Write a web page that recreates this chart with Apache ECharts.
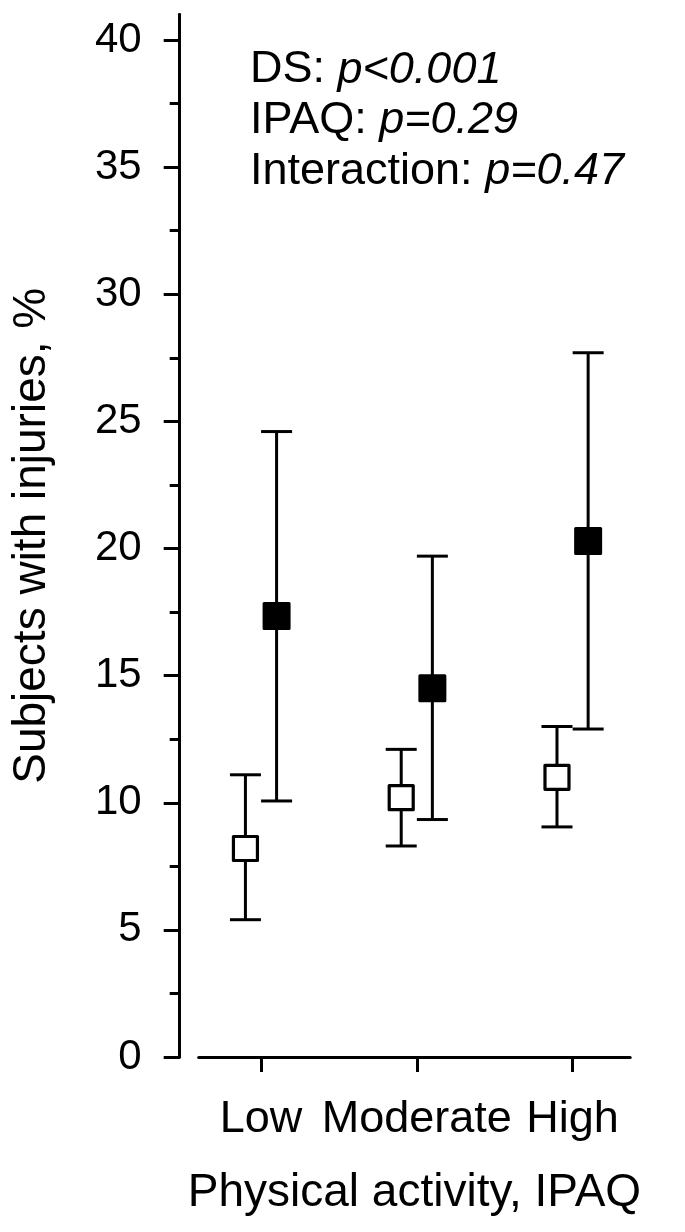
<!DOCTYPE html>
<html>
<head>
<meta charset="utf-8">
<script src="https://cdn.jsdelivr.net/npm/echarts@6/dist/echarts.min.js"></script>
<style>
  html, body { margin: 0; padding: 0; background: #fff; }
  #chart { width: 685px; height: 1232px; }
</style>
</head>
<body>
<div id="chart"></div>
<script>
// ---- Data ----
const categories = ['Low', 'Moderate', 'High'];
// open squares (first group)
const openMean  = [8.2, 10.2, 11.0];
const openLower = [5.4, 8.3, 9.05];
const openUpper = [11.1, 12.1, 13.0];
// filled squares (second group)
const filledMean  = [17.35, 14.5, 20.3];
const filledLower = [10.07, 9.34, 12.9];
const filledUpper = [24.6, 19.7, 27.7];
// axis ticks
const yMajorTicks = [0, 5, 10, 15, 20, 25, 30, 35, 40];
const yMinorTicks = [2.5, 7.5, 12.5, 17.5, 22.5, 27.5, 32.5, 37.5];
// annotation text
const statLabels = ['DS: ', 'IPAQ: ', 'Interaction: '];
const statValues = ['p<0.001', 'p=0.29', 'p=0.47'];
const yTitle = 'Subjects with injuries, %';
const xTitle = 'Physical activity, IPAQ';

// ---- Layout / style ----
const FONT = '"Liberation Sans", Arial, Helvetica, sans-serif';
const DODGE = 0.1;
const LW = 3;

const catIdx = categories.map((c, i) => i);
function pts(mean, off) { return catIdx.map(i => [i + off, mean[i]]); }
function bars(lo, hi, off) { return catIdx.map(i => [i + off, lo[i], hi[i]]); }

function renderErr(params, api) {
  const x = api.value(0);
  const p1 = api.coord([x, api.value(1)]);
  const p2 = api.coord([x, api.value(2)]);
  const hw = 15.5;
  const st = { stroke: '#000', lineWidth: LW, fill: null };
  return {
    type: 'group',
    children: [
      { type: 'line', shape: { x1: p1[0], y1: p1[1], x2: p2[0], y2: p2[1] }, style: st },
      { type: 'line', shape: { x1: p1[0] - hw, y1: p1[1], x2: p1[0] + hw, y2: p1[1] }, style: st },
      { type: 'line', shape: { x1: p2[0] - hw, y1: p2[1], x2: p2[0] + hw, y2: p2[1] }, style: st }
    ]
  };
}

const chart = echarts.init(document.getElementById('chart'), null, { renderer: 'canvas' });

const yCommon = {
  type: 'value', min: 0, max: 41, position: 'left', offset: 19,
  splitLine: { show: false },
  axisLine: { show: true, onZero: false, lineStyle: { color: '#000', width: LW } }
};

chart.setOption({
  animation: false,
  backgroundColor: '#fff',
  textStyle: { fontFamily: FONT, color: '#000' },
  grid: { left: 198.7, right: 54.8, top: 14.6, bottom: 175 },
  xAxis: {
    type: 'value', min: -0.4, max: 2.37,
    splitLine: { show: false },
    axisLine: { show: true, onZero: false, lineStyle: { color: '#000', width: LW } },
    axisTick: { show: true, customValues: catIdx, length: 15, lineStyle: { color: '#000', width: LW } },
    axisLabel: {
      show: true, customValues: catIdx, margin: 40,
      fontSize: 45, fontFamily: FONT, color: '#000',
      formatter: v => categories[Math.round(v)]
    },
    name: xTitle, nameLocation: 'middle', nameGap: 113,
    nameTextStyle: { fontSize: 46, fontFamily: FONT, color: '#000' }
  },
  yAxis: [
    Object.assign({}, yCommon, {
      axisTick: { show: true, customValues: yMajorTicks, length: 16, lineStyle: { color: '#000', width: LW } },
      axisLabel: { show: true, customValues: yMajorTicks, margin: 38, fontSize: 42, fontFamily: FONT, color: '#000' },
      name: yTitle, nameLocation: 'middle', nameGap: 124, nameRotate: 90,
      nameTextStyle: { fontSize: 46, fontFamily: FONT, color: '#000' }
    }),
    Object.assign({}, yCommon, {
      axisTick: { show: true, customValues: yMinorTicks, length: 10, lineStyle: { color: '#000', width: LW } },
      axisLabel: { show: false }
    })
  ],
  series: [
    { type: 'custom', renderItem: renderErr, data: bars(openLower, openUpper, -DODGE), z: 1, encode: { x: 0, y: [1, 2] } },
    { type: 'custom', renderItem: renderErr, data: bars(filledLower, filledUpper, DODGE), z: 1, encode: { x: 0, y: [1, 2] } },
    {
      type: 'scatter', data: pts(openMean, -DODGE), symbol: 'rect', symbolSize: 24, z: 3,
      itemStyle: { color: '#fff', borderColor: '#000', borderWidth: 3.2, borderJoin: 'round', opacity: 1 }
    },
    {
      type: 'scatter', data: pts(filledMean, DODGE), symbol: 'rect', symbolSize: 25, z: 3,
      itemStyle: { color: '#000', borderColor: '#000', borderWidth: 3, borderJoin: 'round', opacity: 1 }
    }
  ],
  graphic: statLabels.map((lab, i) => ({
    type: 'text', x: 250, y: 70 + i * 50.7, z: 10,
    style: {
      text: '{n|' + lab + '}{i|' + statValues[i] + '}',
      verticalAlign: 'middle', align: 'left',
      fill: '#000', fontSize: 45, fontFamily: FONT,
      rich: {
        n: { fontSize: 45, fontFamily: FONT, fill: '#000' },
        i: { fontSize: 45, fontFamily: FONT, fill: '#000', fontStyle: 'italic' }
      }
    }
  }))
});
</script>
</body>
</html>
